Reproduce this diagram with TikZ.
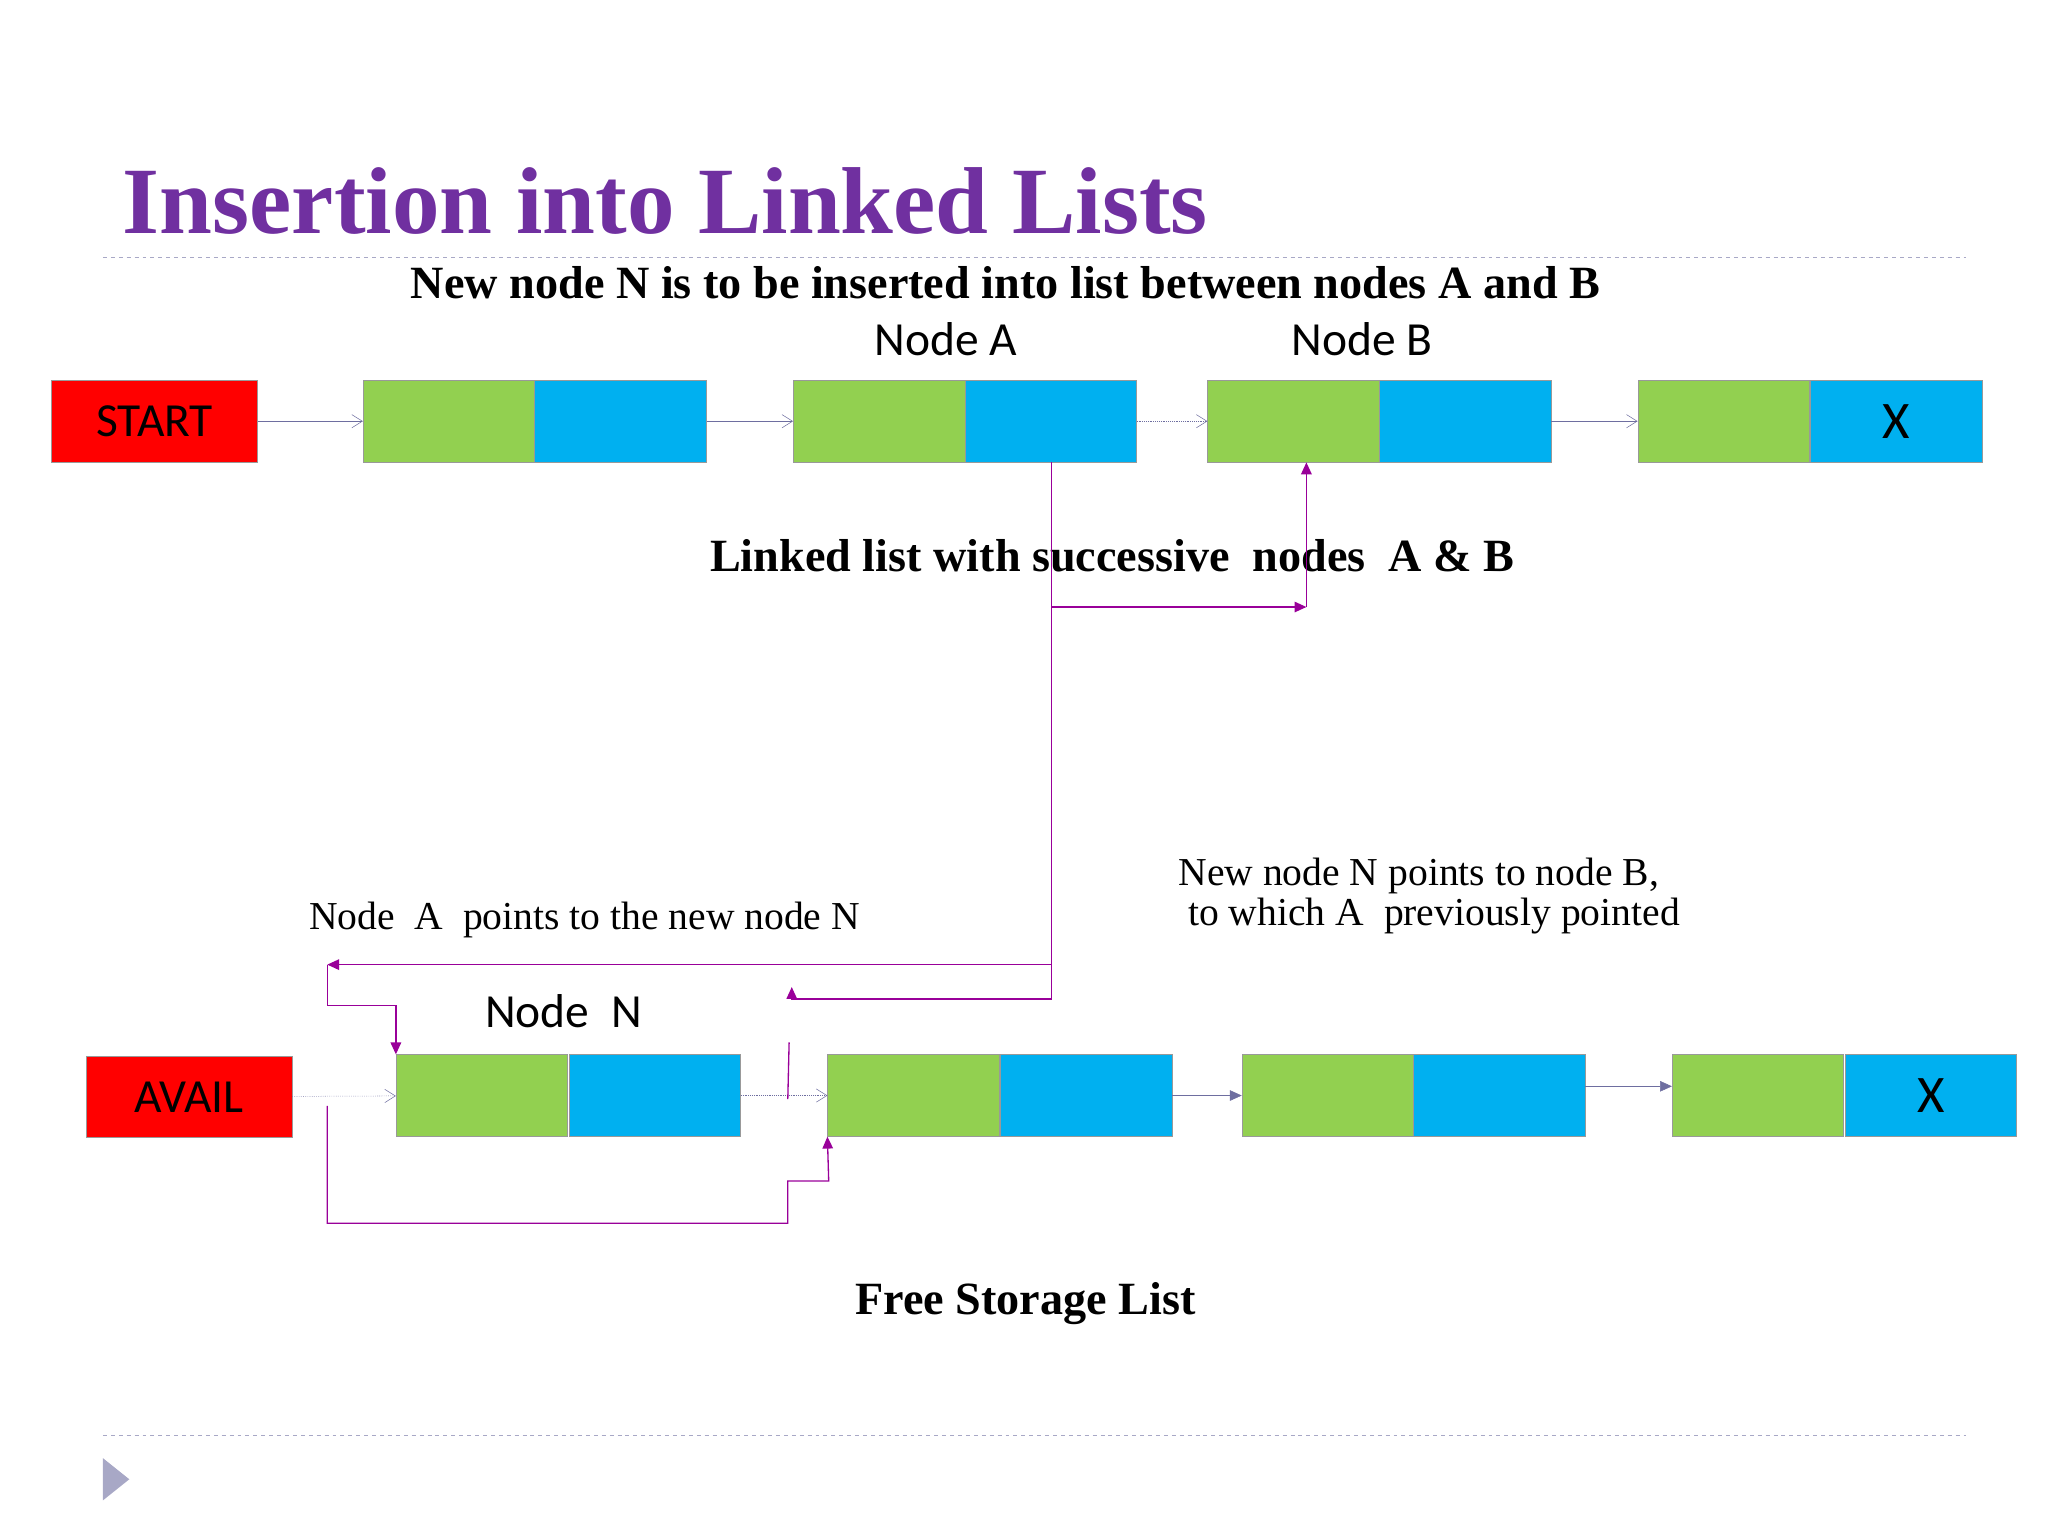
\documentclass[tikz,border=0pt]{standalone}
\usepackage{fontspec}
\setmainfont{Liberation Serif}
\newfontfamily\calfont{Carlito}
\usetikzlibrary{arrows.meta}
\definecolor{cgreen}{RGB}{146,208,80}
\definecolor{cblue}{RGB}{0,176,240}
\definecolor{cpurple}{RGB}{112,48,160}
\definecolor{clink}{RGB}{153,0,153}
\definecolor{cgray}{RGB}{110,110,160}
\begin{document}
\begin{tikzpicture}[x=1pt,y=-1pt,
  every node/.style={inner sep=0pt},
  datapart/.style={draw=black!40, fill=cgreen, minimum width=130pt, minimum height=62pt, anchor=north west},
  linkpart/.style={draw=black!40, fill=cblue, minimum width=130pt, minimum height=62pt, anchor=north west, font=\calfont\fontsize{40}{40}\selectfont},
  headbox/.style={draw=black!40, fill=red, minimum width=156pt, minimum height=62pt, anchor=north west, font=\calfont\fontsize{36}{36}\selectfont},
  nextarrow/.style={cgray, -{Straight Barb[length=8pt,width=10pt]}},
  fillarrow/.style={cgray, -{Triangle[length=9pt,width=8pt]}},
  relink/.style={clink, line width=1pt, -{Triangle[length=9pt,width=8pt]}},
  sublabel/.style={font=\calfont\fontsize{36}{36}\selectfont}]
  \useasboundingbox (0,0) rectangle (1552,1164);
  % title and rules
  \node[anchor=base west, text=cpurple, font=\bfseries\fontsize{72}{72}\selectfont] (title) at (93,177) {Insertion into Linked Lists};
  \draw[cgray!60, dashed, line width=1pt] (78,195) -- (1490,195);
  \draw[cgray!60, dashed, line width=1pt] (78,1088) -- (1490,1088);
  \fill[cgray!60] (78,1105) -- (98,1121) -- (78,1137) -- cycle;
  \node[font=\bfseries\fontsize{35}{35}\selectfont] (intro) at (762,214) {New node N is to be inserted into list between nodes A and B};
  \node[sublabel] (labA) at (717,257) {Node A};
  \node[sublabel] (labB) at (1032,257) {Node B};
  % list with nodes A and B
  \node[headbox] (start) at (39,288) {START};
  \node[datapart] (d1) at (275,288) {};
  \node[linkpart] (l1) at (405,288) {};
  \node[datapart] (dA) at (601,288) {};
  \node[linkpart] (lA) at (731,288) {};
  \node[datapart] (dB) at (915,288) {};
  \node[linkpart] (lB) at (1045,288) {};
  \node[datapart] (d4) at (1241,288) {};
  \node[linkpart] (l4) at (1372,288) {X};
  \draw[nextarrow] (start) -- (d1);
  \draw[nextarrow] (l1) -- (dA);
  \draw[nextarrow, densely dotted] (lA) -- (dB);
  \draw[nextarrow] (lB) -- (d4);
  \node[font=\bfseries\fontsize{35}{35}\selectfont] (caption1) at (843,421) {Linked list with successive\ \ nodes\ \ A \& B};
  % free storage list
  \node[headbox] (avail) at (65,800) {AVAIL};
  \node[datapart] (dN) at (300,799) {};
  \node[linkpart] (lN) at (431,799) {};
  \node[datapart] (f1) at (627,799) {};
  \node[linkpart] (g1) at (758,799) {};
  \node[datapart] (f2) at (941,799) {};
  \node[linkpart] (g2) at (1071,799) {};
  \node[datapart] (f3) at (1267,799) {};
  \node[linkpart] (g3) at (1398,799) {X};
  \node[sublabel] (labN) at (427,766) {Node\ \ N};
  \draw[nextarrow, densely dotted] (avail) -- (dN);
  \draw[nextarrow, densely dotted] (lN) -- (f1);
  \draw[fillarrow] (g1) -- (f2);
  \draw[fillarrow] (g2.east) ++(0,-7) coordinate (g2out) -- (g2out -| f3.west);
  \node[font=\bfseries\fontsize{35}{35}\selectfont] (caption2) at (777,988) {Free Storage List};
  % relinking
  \node[font=\fontsize{30}{30}\selectfont] (noteA) at (443,697) {Node\ \ A\ \ points to the new node N};
  \node[font=\fontsize{30}{30}\selectfont, align=left] (noteN) at (1083,679) {New node N points to node B,\\ \ to which A\ \ previously pointed};
  \coordinate (bendA) at (797,731);
  \draw[relink] (lA.south west) ++(66,0) coordinate (aout) -- (bendA) -- (248,731);
  \draw[relink] (248,731) -- (248,762) -- (dN.north west |- 0,762) -- (dN.north west);
  \draw[relink] (bendA) -- (797,757) -- (600,757) -- (600,748);
  \draw[clink, line width=1pt] (598,790) -- (597,833);
  \draw[relink] (797,460) -- (990,460);
  \draw[relink] (990,460) -- (dB.south west -| 990,0);
  \draw[relink] (248,838) -- (248,927) -- (597,927) -- (597,895) -- (628,895) -- (f1.south west);
\end{tikzpicture}
\end{document}
